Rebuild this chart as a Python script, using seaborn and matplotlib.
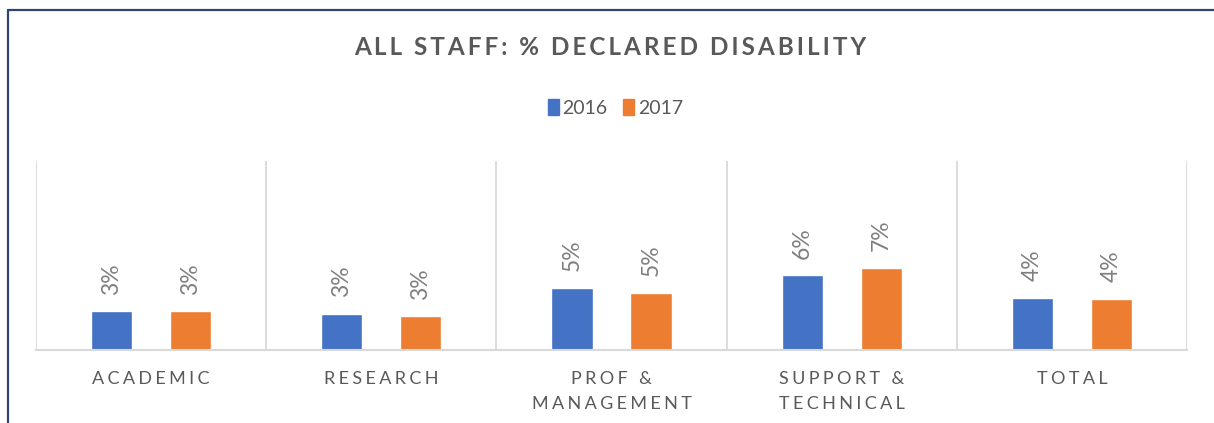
import pandas as pd
import numpy as np
import matplotlib
matplotlib.use("Agg")
import matplotlib.pyplot as plt
import seaborn as sns
from matplotlib.lines import Line2D

# chart values (fractions)
categories = ['ACADEMIC', 'RESEARCH', 'PROF &\nMANAGEMENT', 'SUPPORT &\nTECHNICAL', 'TOTAL']
years = ['2016', '2017']
vals_2016 = [0.031, 0.029, 0.050, 0.060, 0.042]
vals_2017 = [0.031, 0.027, 0.046, 0.066, 0.041]
colors = ['#4472C4', '#ED7D31']

df = pd.DataFrame({
    'category': categories * 2,
    'year': [years[0]] * len(categories) + [years[1]] * len(categories),
    'value': vals_2016 + vals_2017,
})

sns.set_theme(style='white')
plt.rcParams['font.family'] = ['Lato', 'DejaVu Sans']

def spaced(s, sep='\u2009'):
    return '\n'.join(sep.join(line) for line in s.split('\n'))

fig = plt.figure(figsize=(12.14, 4.23), dpi=100)
ax = fig.add_axes([36 / 1214, 73 / 423, 1151 / 1214, 189 / 423])

sns.barplot(data=df, x='category', y='value', hue='year', order=categories,
            hue_order=years, palette=colors, width=0.687, gap=0.48,
            saturation=1, ax=ax, legend=False)

ax.set_ylim(0, 0.152)
ax.set_xlim(-0.5, len(categories) - 0.5)
ax.set_xlabel('')
ax.set_ylabel('')
ax.set_yticks([])
ax.set_xticks(range(len(categories)))
ax.set_xticklabels([spaced(c, '\u2009\u200a') for c in categories], fontsize=13,
                   color='#595959', linespacing=1.7)
ax.tick_params(axis='x', length=0, pad=15)

# category separators
ax.set_xticks(np.arange(-0.5, len(categories), 1), minor=True)
ax.tick_params(axis='x', which='minor', length=0)
ax.grid(True, axis='x', which='minor', color='#D9D9D9', linewidth=1.3)
ax.grid(False, axis='x', which='major')
ax.grid(False, axis='y')
for s in ['top', 'right', 'left']:
    ax.spines[s].set_visible(False)
ax.spines['bottom'].set_color('#D9D9D9')
ax.spines['bottom'].set_linewidth(1.5)

for cont in ax.containers:
    ax.bar_label(cont, labels=[f'{v:.0%}' for v in cont.datavalues],
                 rotation=90, padding=12, fontsize=16.5, color='#7F7F7F')

fig.text(0.503, 0.887, spaced('ALL STAFF: % DECLARED DISABILITY', '\u2009'),
         ha='center', va='center', fontsize=17.5, fontweight='bold', color='#595959')

handles = [plt.Rectangle((0, 0), 1, 1, color=c) for c in colors]
fig.legend(handles, years, loc='center', bbox_to_anchor=(0.507, 0.745), ncol=2,
           frameon=False, fontsize=14, labelcolor='#595959', handlelength=0.55,
           handleheight=0.9, handletextpad=0.2, columnspacing=0.8)

# outer chart frame
fig.add_artist(Line2D([7.5 / 1214, 7.5 / 1214], [0, 412.5 / 423], color='#2E4573',
                      linewidth=1.6, transform=fig.transFigure))
fig.add_artist(Line2D([7.5 / 1214, 1], [412.5 / 423, 412.5 / 423], color='#2E4573',
                      linewidth=1.6, transform=fig.transFigure))

fig.savefig('out.png', dpi=100)
